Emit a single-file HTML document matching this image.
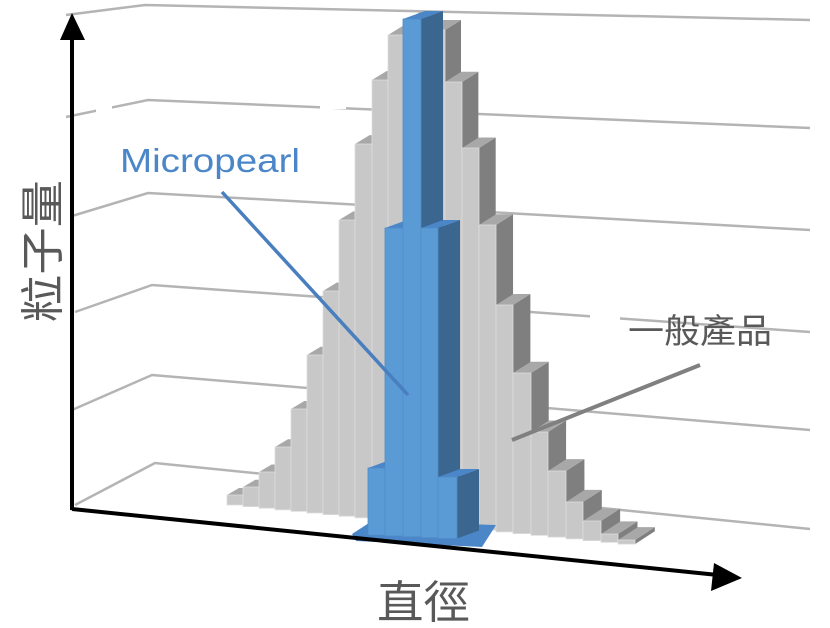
<!DOCTYPE html>
<html><head><meta charset="utf-8"><style>
html,body{margin:0;padding:0;background:#fff;width:830px;height:628px;overflow:hidden}
svg{display:block}
</style></head><body>
<svg id="s" width="830" height="628" viewBox="0 0 830 628" xmlns="http://www.w3.org/2000/svg">
<g id="grid" fill="none" stroke="#b4b4b4" stroke-width="2.5">
<polyline points="66,15 145,5 810,20"/>
<polyline points="66,117 148,100 810,128"/>
<polyline points="72,216 148,193 810,230"/>
<polyline points="75,312 152,285 810,332"/>
<polyline points="72,410 152,375 810,430"/>
<polyline points="75,505 155,463 810,529"/>
</g>
<rect x="96" y="104" width="16" height="14" fill="#fff"/>
<rect x="320" y="95" width="26" height="14" fill="#fff"/>
<rect x="590" y="312" width="30" height="40" fill="#fff"/>
<g id="bars"></g>
<line x1="72" y1="510" x2="72" y2="38" stroke="#000" stroke-width="4"/>
<polygon points="72,13 60,40 85,40" fill="#000"/>
<line x1="72" y1="509" x2="718" y2="575" stroke="#000" stroke-width="4"/>
<polygon points="742,578 714,563 711,591" fill="#000"/>
<line x1="222" y1="192" x2="408" y2="395" stroke="#4a7fbf" stroke-width="3.5"/>
<line x1="700" y1="365" x2="512" y2="440" stroke="#808080" stroke-width="4"/>
<text x="120" y="172" font-family="Liberation Sans, sans-serif" font-size="33" fill="#4a86c8" textLength="180" lengthAdjust="spacingAndGlyphs">Micropearl</text>
<text x="628" y="343" font-family="Liberation Sans, 'Noto Sans CJK TC', sans-serif" font-size="34" fill="#595959" textLength="144" lengthAdjust="spacingAndGlyphs">一般產品</text>
<text x="377" y="618" font-family="Liberation Sans, 'Noto Sans CJK TC', sans-serif" font-size="45" fill="#595959" textLength="93" lengthAdjust="spacingAndGlyphs">直徑</text>
<text transform="translate(58,322) rotate(-90)" font-family="Liberation Sans, 'Noto Sans CJK TC', sans-serif" font-size="44" fill="#595959" textLength="142" lengthAdjust="spacingAndGlyphs">粒子量</text>
</svg>
<script>
var NS="http://www.w3.org/2000/svg",g=document.getElementById("bars");
function poly(pts,fill,stroke){var p=document.createElementNS(NS,"polygon");p.setAttribute("points",pts.map(function(a){return a[0]+","+a[1]}).join(" "));p.setAttribute("fill",fill);if(stroke){p.setAttribute("stroke",stroke);p.setAttribute("stroke-width","0.8");}g.appendChild(p);}
function bar(x,w,top,base,dx,dy,cf,cs,ct,st){
 if(top>base-4)top=base-4;
 poly([[x+w,top],[x+w+dx,top+dy],[x+w+dx,base+dy],[x+w,base]],cs);
 poly([[x,top],[x+dx,top+dy],[x+w+dx,top+dy],[x+w,top]],ct);
 poly([[x,top],[x+w,top],[x+w,base],[x,base]],cf,st);
}
var gray=[[227,16,495],[243,16,487],[259,16,472],[275,16,447],[291,16,409],[307,16,355],[323,16,291],[339,16,220],[355,17,144],[372,16,80],[388,16,35],[404,23,22],[427,18,30],[445,17,82],[462,17,148],[479,17,225],[496,17,305],[513,18,373],[531,17,432],[548,18,471],[566,17,502],[583,18,521],[601,17,534],[618,17,540]];
gray.forEach(function(b){var x=b[0];var base=505+0.1*(x-227);var dx=12+(x-227)*0.02,dy=-7-(x-227)*0.015;
 bar(x,b[1],b[2],base,dx,dy,"#c8c8c8","#7f7f7f","#a8a8a8","#dedede");});
var blue=[[368,17,468],[385,18,228],[403,18,19],[421,17,228],[438,19,477]];
poly([[352,534],[372,521],[496,525],[482,547],[356,541]],"#4a86c8");
blue.forEach(function(b){var x=b[0];var base=535+0.05*(x-368);
 bar(x,b[1],b[2],base,22,-8,"#5b9bd5","#3a6690","#4a86c8","#4f8cc8");});
</script>
</body></html>
